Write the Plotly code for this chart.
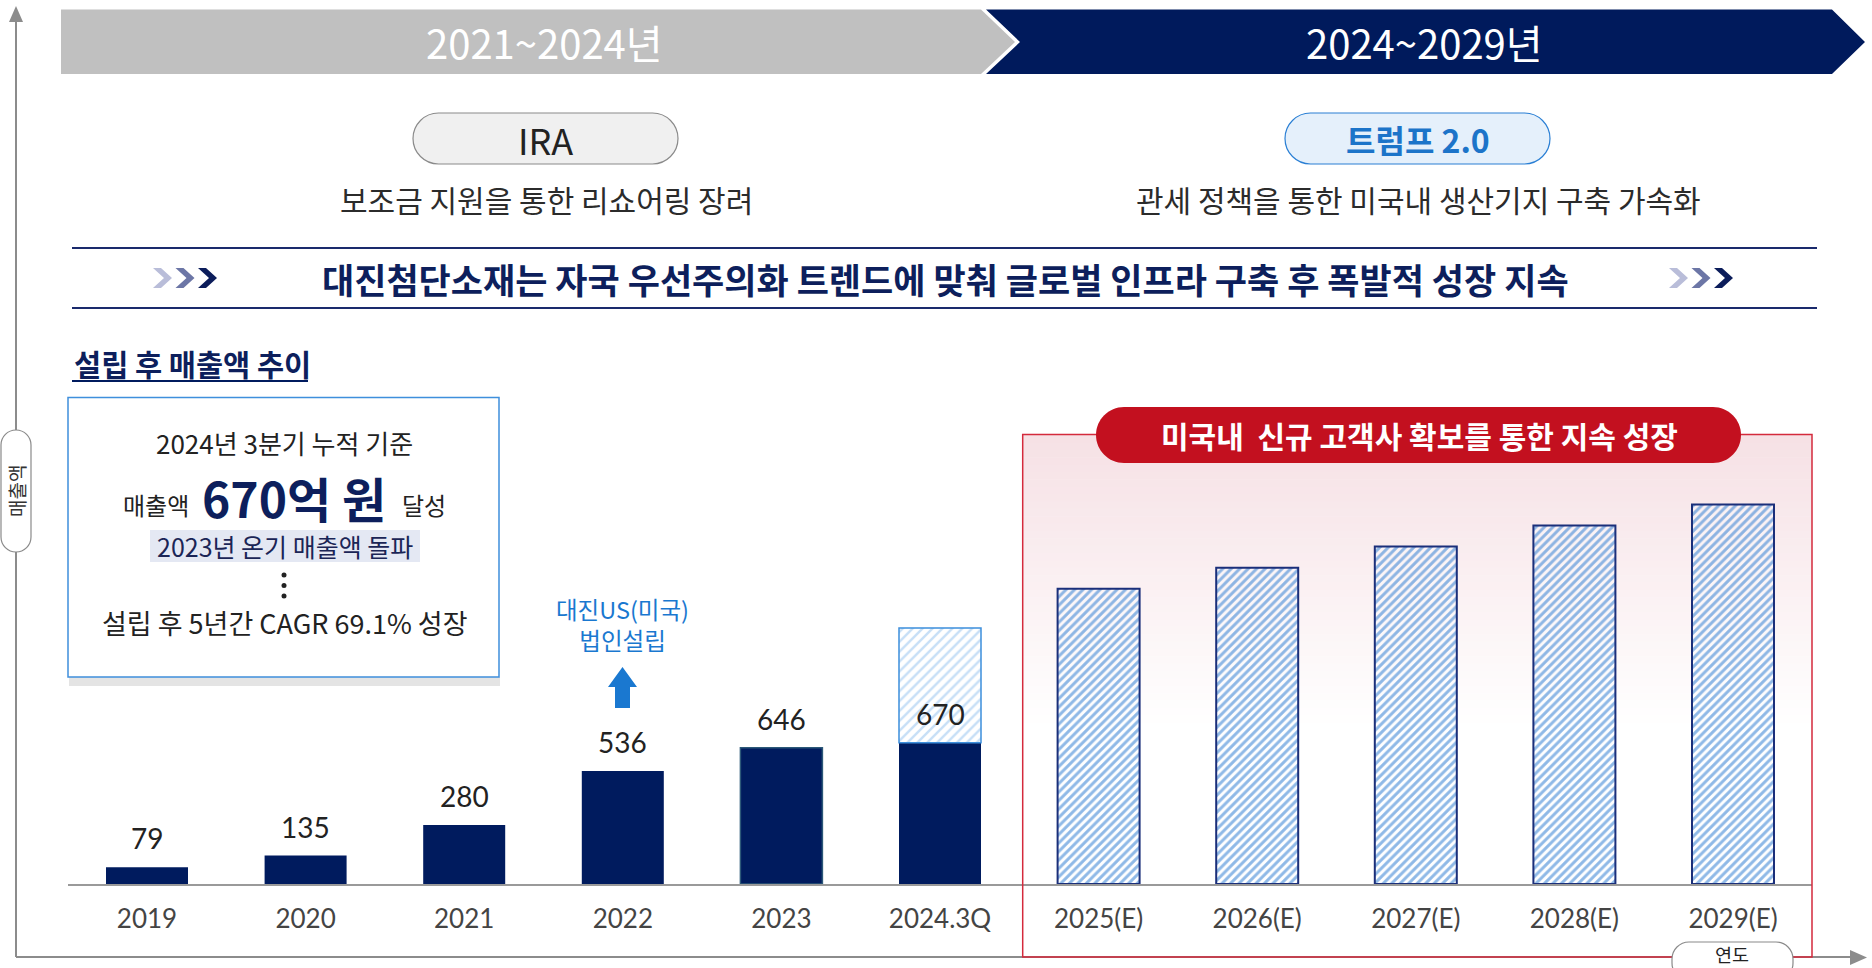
import plotly.graph_objects as go

W, H = 1872, 968

# ---------------- data ----------------
categories = ["2019", "2020", "2021", "2022", "2023", "2024.3Q",
              "2025(E)", "2026(E)", "2027(E)", "2028(E)", "2029(E)"]
actual_cats = ["2019", "2020", "2021", "2022", "2023", "2024.3Q"]
actual_values = [79, 135, 280, 536, 646, 670]
estimate_2024_total = 1214          # hatched full-year 2024 estimate
forecast_cats = ["2025(E)", "2026(E)", "2027(E)", "2028(E)", "2029(E)"]
forecast_values = [1400, 1500, 1600, 1700, 1800]

NAVY = "#001b5e"
BLUE = "#1a78d0"
FONT = "Noto Sans CJK KR, Noto Sans, sans-serif"
NUMFONT = "Lato, Noto Sans, sans-serif"


def px(x):
    return x / W


def py(y):
    return 1 - y / H


def poly(points):
    return "M " + " L ".join(f"{px(x):.5f},{py(y):.5f}" for x, y in points) + " Z"


def rrect(x0, y0, x1, y1, r):
    k = 0.5523 * r

    def p(x, y):
        return f"{px(x):.5f},{py(y):.5f}"
    return (f"M {p(x0 + r, y0)} L {p(x1 - r, y0)} "
            f"C {p(x1 - r + k, y0)} {p(x1, y0 + r - k)} {p(x1, y0 + r)} "
            f"L {p(x1, y1 - r)} "
            f"C {p(x1, y1 - r + k)} {p(x1 - r + k, y1)} {p(x1 - r, y1)} "
            f"L {p(x0 + r, y1)} "
            f"C {p(x0 + r - k, y1)} {p(x0, y1 - r + k)} {p(x0, y1 - r)} "
            f"L {p(x0, y0 + r)} "
            f"C {p(x0, y0 + r - k)} {p(x0 + r - k, y0)} {p(x0 + r, y0)} Z")


fig = go.Figure()

BAR_W = 0.517
fig.add_bar(x=actual_cats, y=actual_values, width=BAR_W,
            marker=dict(color=NAVY,
                        line=dict(width=[0, 0, 0, 0, 1.5, 0], color="#2c5878")),
            hoverinfo="skip")
fig.add_bar(x=[actual_cats[5]], y=[estimate_2024_total - actual_values[5]],
            base=[actual_values[5]], width=BAR_W,
            marker=dict(color="#8fc0ee", line=dict(color="#3d8fdc", width=1.5),
                        pattern=dict(shape="/", fgcolor="#8fc0ee", bgcolor="white",
                                     size=7, solidity=0.35)),
            hoverinfo="skip")
fig.add_bar(x=forecast_cats, y=forecast_values, width=BAR_W,
            marker=dict(color="#1f74cf", line=dict(color="#1b2f7a", width=2),
                        pattern=dict(shape="/", fgcolor="#1f74cf",
                                     bgcolor="rgba(255,255,255,0.4)",
                                     size=6, solidity=0.5)),
            hoverinfo="skip")

shapes = []
annotations = []

# ---- gradient background of forecast region ----
gx0, gx1, gy0, gy1 = 1023, 1812, 435, 730
N = 40
c0 = (246, 225, 229)
for i in range(N):
    t = i / (N - 1)
    c = tuple(round(c0[j] + (255 - c0[j]) * t) for j in range(3))
    ya = gy0 + (gy1 - gy0) * i / N
    yb = gy0 + (gy1 - gy0) * (i + 1) / N + 0.6
    shapes.append(dict(type="rect", xref="paper", yref="paper", layer="below",
                       x0=px(gx0), x1=px(gx1), y0=py(yb), y1=py(ya),
                       fillcolor=f"rgb{c}", line=dict(width=0)))

# ---- outer axes ----
AX = "#8c8c8c"
shapes.append(dict(type="line", xref="paper", yref="paper", x0=px(16), x1=px(16),
                   y0=py(957), y1=py(20), line=dict(color=AX, width=2)))
shapes.append(dict(type="path", xref="paper", yref="paper",
                   path=poly([(16, 6), (23, 22), (9, 22)]), fillcolor=AX, line=dict(width=0)))
shapes.append(dict(type="line", xref="paper", yref="paper", x0=px(16), x1=px(1852),
                   y0=py(957), y1=py(957), line=dict(color=AX, width=2)))
shapes.append(dict(type="path", xref="paper", yref="paper",
                   path=poly([(1867, 957.5), (1850, 950), (1850, 965)]), fillcolor=AX,
                   line=dict(width=0)))

# ---- top banner ----
shapes.append(dict(type="path", xref="paper", yref="paper",
                   path=poly([(61, 9.5), (981, 9.5), (1015, 42), (981, 74), (61, 74)]),
                   fillcolor="#c0c0c0", line=dict(width=0)))
shapes.append(dict(type="path", xref="paper", yref="paper",
                   path=poly([(986, 9.5), (1832, 9.5), (1865, 42), (1832, 74), (986, 74),
                              (1020, 42)]),
                   fillcolor="#001a5c", line=dict(width=0)))

# ---- pills ----
shapes.append(dict(type="path", xref="paper", yref="paper",
                   path=rrect(413, 113, 678, 164, 25.5), fillcolor="#f0f0f0",
                   line=dict(color="#8a8a8a", width=1.2)))
shapes.append(dict(type="path", xref="paper", yref="paper",
                   path=rrect(1285, 113, 1550, 164, 25.5), fillcolor="#e5f0fb",
                   line=dict(color="#2a7fd4", width=1.2)))

# ---- headline lines ----
for yy in (248, 308):
    shapes.append(dict(type="line", xref="paper", yref="paper", x0=px(72), x1=px(1817),
                       y0=py(yy), y1=py(yy), line=dict(color="#1a2a6c", width=2)))

# ---- chevrons ----
chev_cols = ["#b9bdd9", "#6c76a6", "#0c1d5b"]
for gx in (153, 1669):
    for i, col in enumerate(chev_cols):
        x0 = gx + i * 22.5
        w, t = 19, 8
        shapes.append(dict(type="path", xref="paper", yref="paper",
                           path=poly([(x0, 268), (x0 + t, 268), (x0 + w, 278),
                                      (x0 + t, 288), (x0, 288), (x0 + w - t, 278)]),
                           fillcolor=col, line=dict(width=0)))

# ---- subtitle underline ----
shapes.append(dict(type="line", xref="paper", yref="paper", x0=px(72), x1=px(308),
                   y0=py(381), y1=py(381), line=dict(color=NAVY, width=2)))

# ---- left box ----
shapes.append(dict(type="rect", xref="paper", yref="paper", x0=px(69), x1=px(500),
                   y0=py(686), y1=py(677), fillcolor="#e4e4e4", line=dict(width=0)))
shapes.append(dict(type="rect", xref="paper", yref="paper", x0=px(68), x1=px(499),
                   y0=py(677), y1=py(397.5), fillcolor="white",
                   line=dict(color="#3f8fdc", width=1.5)))
shapes.append(dict(type="rect", xref="paper", yref="paper", x0=px(150), x1=px(420),
                   y0=py(562), y1=py(530), fillcolor="#e4e8f3", line=dict(width=0)))
for dy in (575, 585.5, 596):
    shapes.append(dict(type="circle", xref="paper", yref="paper",
                       x0=px(281.5), x1=px(286.5), y0=py(dy + 2.5), y1=py(dy - 2.5),
                       fillcolor="#222222", line=dict(width=0)))

# ---- blue arrow ----
shapes.append(dict(type="path", xref="paper", yref="paper",
                   path=poly([(622.5, 667), (637, 687), (630, 687), (630, 708),
                              (615, 708), (615, 687), (608, 687)]),
                   fillcolor=BLUE, line=dict(width=0)))

# ---- forecast region border + red pill ----
shapes.append(dict(type="rect", xref="paper", yref="paper", x0=px(1022.7), x1=px(1812),
                   y0=py(957), y1=py(434.6), line=dict(color="#d42a3c", width=1.5)))
shapes.append(dict(type="path", xref="paper", yref="paper",
                   path=rrect(1096, 407, 1741, 463, 28), fillcolor="#c3101f",
                   line=dict(width=0)))

# ---- axis title pills ----
shapes.append(dict(type="path", xref="paper", yref="paper",
                   path=rrect(1, 430, 31, 552, 15), fillcolor="white",
                   line=dict(color="#8a8a8a", width=1.2)))
shapes.append(dict(type="path", xref="paper", yref="paper",
                   path=rrect(1672, 942, 1793, 980, 17), fillcolor="white",
                   line=dict(color="#8a8a8a", width=1.2)))


def txt(x, y, text, size, color="#222222", xanchor="center", family=FONT, **kw):
    d = dict(xref="paper", yref="paper", x=px(x), y=py(y), text=text, showarrow=False,
             xanchor=xanchor, yanchor="middle", font=dict(size=size, color=color, family=family))
    d.update(kw)
    annotations.append(d)


txt(544, 42, "2021~2024년", 40, "white")
txt(1424, 42, "2024~2029년", 40, "white")
txt(545.5, 139, "IRA", 36, "#222222")
txt(1417.5, 139, "<b>트럼프 2.0</b>", 32, "#1c74c9")
txt(546, 199, "보조금 지원을 통한 리쇼어링 장려", 30, "#2b2b2b")
txt(1418, 199, "관세 정책을 통한 미국내 생산기지 구축 가속화", 30, "#2b2b2b")
txt(945, 278, "<b>대진첨단소재는 자국 우선주의화 트렌드에 맞춰 글로벌 인프라 구축 후 폭발적 성장 지속</b>",
    35, "#0d1f5c")
txt(72, 363, "<b>설립 후 매출액 추이</b>", 29.5, "#0d1f5c", xanchor="left")
txt(284, 443, "2024년 3분기 누적 기준", 26)
txt(191, 504, "매출액", 24, xanchor="right")
txt(294, 497, "<b>670억 원</b>", 48, "#0d1f5c")
txt(400, 504, "달성", 24, xanchor="left")
txt(285, 546, "2023년 온기 매출액 돌파", 25, "#1b2556")
txt(284.5, 622.5, "설립 후 5년간 CAGR 69.1% 성장", 27)
txt(622, 624.5, "대진US(미국)<br>법인설립", 23.5, BLUE)
txt(1419, 435, "<b>미국내\u00a0 신규 고객사 확보를 통한 지속 성장</b>", 30, "white")
txt(16, 491, "매출액", 19, "#333333", textangle=-90)
txt(1732, 954, "연도", 18.5, "#222222")

# value labels above actual bars (x given as category index)
for c, v in zip(actual_cats, actual_values):
    annotations.append(dict(xref="x", yref="y", x=categories.index(c), y=v, text=str(v),
                            showarrow=False, yanchor="middle", yshift=29,
                            font=dict(size=28, color="#222222", family=NUMFONT)))

fig.update_layout(
    width=W, height=H, margin=dict(l=0, r=0, t=0, b=0),
    paper_bgcolor="white", plot_bgcolor="rgba(0,0,0,0)",
    barmode="overlay", showlegend=False,
    font=dict(family=FONT),
    xaxis=dict(domain=[px(67.7), px(1812.3)], range=[-0.5, 10.5], type="category",
               categoryorder="array", categoryarray=categories,
               showline=True, linecolor="#9a9a9a", linewidth=2, showgrid=False,
               zeroline=False, ticks="", ticklabelstandoff=11,
               tickfont=dict(size=26, color="#444444", family=NUMFONT), fixedrange=True),
    yaxis=dict(domain=[py(884), py(434)], range=[0, 450 / 0.2109], visible=False,
               fixedrange=True),
    shapes=shapes, annotations=annotations,
)

fig.write_html("out.html", config={"displayModeBar": False},
               post_script="document.body.style.margin='0px';document.body.style.overflow='hidden';")
